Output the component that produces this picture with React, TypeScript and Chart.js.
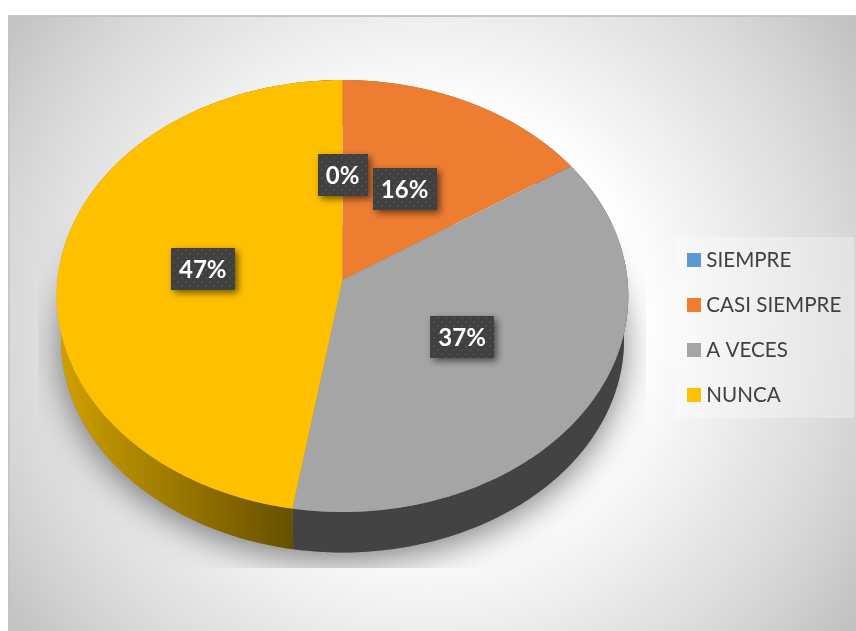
import React, { useEffect, useRef } from "react";
import { Chart, registerables } from "chart.js";

Chart.register(...registerables);

const categories = ["SIEMPRE", "CASI SIEMPRE", "A VECES", "NUNCA"];
const shares = [0, 15.7, 36.9, 47.4];
const sliceColors = ["#5B9BD5", "#ED7D31", "#A5A5A5", "#FFC000"];
const labelRadii = [0.505, 0.49, 0.49, 0.49];
const labelShiftX = [0, -2, 0, -1];
const labelShiftY = [0, -1, -1, -2];

const CX = 342.5;
const APEX_Y = 280;
const RX = 285;
const KY = 214.8;
const P = -0.074;
const WALL_SCALE = 0.985;
const WALL_DROP = 44;

function project(a: number, r = 1, scale = 1, drop = 0) {
  const c = Math.cos(a) * r;
  const s = Math.sin(a) * r;
  const w = 1 + P * s;
  return { x: CX + (RX * scale * c) / w, y: APEX_Y + drop + (KY * scale * s) / w };
}

function dotPattern(ctx: CanvasRenderingContext2D) {
  const tile = document.createElement("canvas");
  tile.width = 8;
  tile.height = 8;
  const t = tile.getContext("2d")!;
  t.fillStyle = "#404040";
  t.fillRect(0, 0, 8, 8);
  t.fillStyle = "#4e4e4e";
  t.fillRect(1, 1, 2, 2);
  t.fillRect(5, 5, 2, 2);
  return ctx.createPattern(tile, "repeat")!;
}

const scene = {
  id: "scene",
  beforeDraw(chart: any) {
    const { ctx, legend } = chart;
    ctx.save();
    ctx.fillStyle = "#ffffff";
    ctx.fillRect(0, 0, 856, 631);
    const g = ctx.createRadialGradient(428, 323, 0, 428, 323, 530);
    g.addColorStop(0, "#ffffff");
    g.addColorStop(0.4, "#ffffff");
    g.addColorStop(0.8, "#d8d8d8");
    g.addColorStop(1, "#bfbfbf");
    ctx.fillStyle = g;
    ctx.fillRect(8, 15, 848, 616);
    ctx.fillStyle = "#c4c4c4";
    ctx.fillRect(8, 15, 848, 2);
    ctx.fillRect(8, 15, 1.5, 616);
    ctx.fillStyle = "rgba(255,255,255,0.3)";
    ctx.fillRect(675, 237, 179, 181);
    ctx.restore();
    legend.left = 662.6;
    legend.right = 870;
    legend.top = 225.3;
    legend.bottom = 631;
  },
  beforeDatasetsDraw(chart: any) {
    const { ctx } = chart;
    const arcs = chart.getDatasetMeta(0).data as any[];
    const first = arcs[0].startAngle;
    const last = arcs[arcs.length - 1].endAngle;

    // soft shadow of the disc
    ctx.save();
    ctx.beginPath();
    ctx.rect(38, 225, 608, 343);
    ctx.clip();
    ctx.shadowColor = "rgba(0,0,0,0.5)";
    ctx.shadowBlur = 34;
    ctx.shadowOffsetY = 8;
    ctx.fillStyle = "#808080";
    ctx.beginPath();
    for (let a = first; a <= last; a += 0.01) {
      const p = project(a, 1, WALL_SCALE, WALL_DROP);
      ctx.lineTo(p.x, p.y);
    }
    ctx.closePath();
    ctx.fill();
    ctx.restore();

    // side wall
    arcs.forEach((arc, i) => {
      if (arc.endAngle - arc.startAngle <= 0) return;
      const pts = [];
      const n = 240;
      for (let k = 0; k <= n; k++) pts.push(arc.startAngle + ((arc.endAngle - arc.startAngle) * k) / n);
      ctx.beginPath();
      pts.forEach((a) => {
        const p = project(a);
        ctx.lineTo(p.x, p.y);
      });
      pts.slice().reverse().forEach((a) => {
        const p = project(a, 1, WALL_SCALE, WALL_DROP);
        ctx.lineTo(p.x, p.y);
      });
      ctx.closePath();
      if (i === 3) {
        const g = ctx.createLinearGradient(60, 0, 293, 0);
        g.addColorStop(0, "#d0a000");
        g.addColorStop(1, "#665000");
        ctx.fillStyle = g;
      } else if (i === 2) {
        ctx.fillStyle = "#434343";
      } else {
        ctx.fillStyle = "#8a4a1c";
      }
      ctx.fill();
    });

    // top face
    arcs.forEach((arc) => {
      if (arc.endAngle - arc.startAngle <= 0) return;
      const apex = project(0, 0);
      ctx.beginPath();
      ctx.moveTo(apex.x, apex.y);
      const n = 360;
      for (let k = 0; k <= n; k++) {
        const p = project(arc.startAngle + ((arc.endAngle - arc.startAngle) * k) / n);
        ctx.lineTo(p.x, p.y);
      }
      ctx.closePath();
      ctx.fillStyle = arc.options.backgroundColor;
      ctx.fill();
    });
    return false;
  },
  afterDraw(chart: any) {
    const { ctx, legend } = chart;
    const arcs = chart.getDatasetMeta(0).data as any[];
    const total = shares.reduce((a, b) => a + b, 0);
    const pattern = dotPattern(ctx);

    // legend swatches widened to their full size
    ctx.save();
    legend.legendItems.forEach((item: any, i: number) => {
      ctx.fillStyle = item.fillStyle;
      ctx.fillRect(687, 253 + i * 45, 14, 14);
    });
    ctx.restore();

    // percentage labels
    arcs.forEach((arc, i) => {
      const mid = (arc.startAngle + arc.endAngle) / 2;
      const c = project(mid, labelRadii[i]);
      c.x += labelShiftX[i];
      c.y += labelShiftY[i];
      const text = `${Math.round((shares[i] / total) * 100)}%`;
      const w = text.length === 2 ? 50 : 64;
      const h = 42;
      ctx.save();
      ctx.shadowColor = "rgba(0,0,0,0.55)";
      ctx.shadowBlur = 7;
      ctx.shadowOffsetX = 3;
      ctx.shadowOffsetY = 3;
      ctx.fillStyle = pattern;
      ctx.fillRect(Math.round(c.x - w / 2), Math.round(c.y - h / 2), w, h);
      ctx.restore();
      ctx.fillStyle = "#ffffff";
      ctx.font = "bold 24px Lato";
      ctx.textAlign = "center";
      ctx.textBaseline = "middle";
      ctx.fillText(text, c.x, c.y + 1);
    });
  },
};

export default function App() {
  const ref = useRef<HTMLCanvasElement>(null);
  useEffect(() => {
    const chart = new Chart(ref.current!, {
      type: "pie",
      data: {
        labels: categories,
        datasets: [{ data: shares, backgroundColor: sliceColors, borderWidth: 0 }],
      },
      options: {
        responsive: false,
        animation: false,
        devicePixelRatio: 1,
        plugins: {
          tooltip: { enabled: false },
          legend: {
            position: "right",
            align: "start",
            labels: {
              boxWidth: 9,
              boxHeight: 14,
              padding: 24.4,
              color: "#404040",
              font: { family: "Lato", size: 20.6 },
            },
          },
        },
      },
      plugins: [scene],
    } as any);
    return () => chart.destroy();
  }, []);
  return (
    <canvas
      ref={ref}
      width={856}
      height={631}
      style={{ position: "fixed", left: 0, top: 0, display: "block" }}
    />
  );
}
